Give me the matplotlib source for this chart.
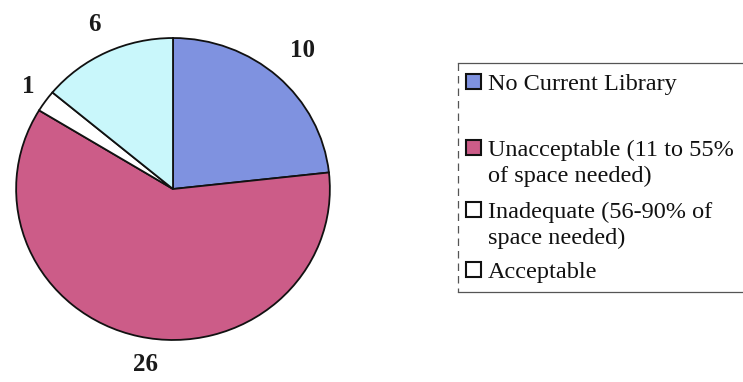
import matplotlib
matplotlib.use("Agg")
import matplotlib.pyplot as plt
from matplotlib.patches import Rectangle

categories = ["No Current Library",
              "Unacceptable (11 to 55%\nof space needed)",
              "Inadequate (56-90% of\nspace needed)",
              "Acceptable"]
values = [10, 26, 1, 6]
legend_colors = ["#7f92e0", "#cc5c88", "#ffffff", "#ffffff"]
pie_colors = ["#7f92e0", "#cc5c88", "#ffffff", "#c9f7fb"]

W, H = 743, 382
fig = plt.figure(figsize=(W / 100, H / 100), dpi=100)
fig.patch.set_facecolor("white")

# pie axes (pixel placement)
cx, cy, rx, ry = 173, 189, 160, 154
ax = fig.add_axes([(cx - rx) / W, (H - cy - ry) / H, 2 * rx / W, 2 * ry / H])
wedges, texts = ax.pie(values, colors=pie_colors, startangle=90, counterclock=False,
                       labels=[str(v) for v in values], labeldistance=1.2,
                       wedgeprops=dict(edgecolor="#111111", linewidth=1.3),
                       textprops=dict(fontsize=18, family="Liberation Serif",
                                      weight="bold", color="#1a1a1a"))
# small nudges to match reference label placement
nudges = [(0.025, 0.026), (0.085, 0.006), (0.055, -0.02), (0.006, 0.0)]
for t, (dx, dy) in zip(texts, nudges):
    x, y = t.get_position()
    t.set_position((x + dx, y + dy))
    t.set_ha("center")
    t.set_va("center")
ax.set_xlim(-1.02, 1.02)
ax.set_ylim(-1.02, 1.02)
ax.set_aspect("auto")
ax.axis("off")

# legend frame
def fx(x): return x / W
def fy(y): return 1 - y / H
frame_col = "#555555"
fig.add_artist(plt.Line2D([fx(458), fx(743)], [fy(63), fy(63)], color=frame_col, lw=0.9, transform=fig.transFigure))
fig.add_artist(plt.Line2D([fx(458), fx(743)], [fy(292), fy(292)], color=frame_col, lw=0.9, transform=fig.transFigure))
fig.add_artist(plt.Line2D([fx(458), fx(458)], [fy(63), fy(292)], color=frame_col, lw=0.9,
                          linestyle=(0, (6, 4)), transform=fig.transFigure))

entry_base = [90, 156, 218, 278]
line_gap = 26
for lab, col, y in zip(categories, legend_colors, entry_base):
    fig.add_artist(Rectangle((fx(466), fy(y - 1)), 15 / W, 15 / H, facecolor=col,
                             edgecolor="#111111", lw=1.5, transform=fig.transFigure))
    for i, line in enumerate(lab.split("\n")):
        fig.text(fx(488), fy(y + i * line_gap), line, ha="left", va="baseline",
                 fontsize=17.5, family="Liberation Serif", color="#111111")

fig.savefig("out.png", dpi=100, facecolor="white")
